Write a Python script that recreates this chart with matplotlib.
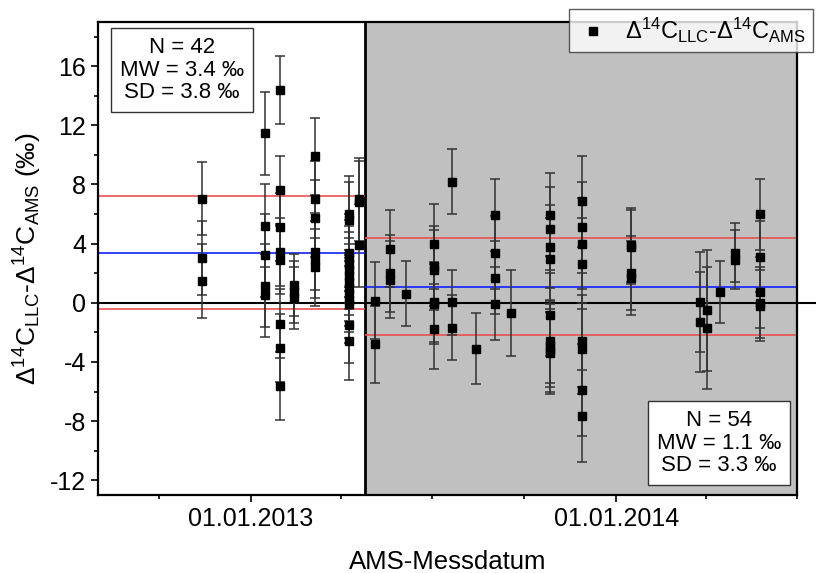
import numpy as np
import pandas as pd
import matplotlib
matplotlib.use("Agg")
import matplotlib.pyplot as plt
import matplotlib.dates as mdates
from matplotlib.lines import Line2D

plt.rcParams["font.family"] = ["Liberation Sans", "DejaVu Sans"]
plt.rcParams["mathtext.default"] = "regular"
plt.rcParams["axes.unicode_minus"] = False

# measurement dates (one per column of points) and the differences measured there
col_dates = ["2012-11-13", "2013-01-15", "2013-01-30", "2013-02-13", "2013-03-06",
             "2013-04-09", "2013-04-19",
             "2013-05-05", "2013-05-20", "2013-06-05", "2013-07-03", "2013-07-21",
             "2013-08-14", "2013-09-02", "2013-09-18", "2013-10-27", "2013-11-28",
             "2014-01-16", "2014-03-26", "2014-04-02", "2014-04-15", "2014-04-30",
             "2014-05-25"]
col_values = [
    [7.05, 3.05, 1.5],
    [11.45, 5.2, 3.2, 1.15, 0.5],
    [14.4, 7.6, 5.15, 3.45, 2.9, -1.4, -3.05, -5.6],
    [1.2, 0.75, 0.35],
    [9.9, 7.0, 5.7, 3.45, 2.9, 2.4],
    [6.0, 5.6, 3.4, 3.0, 2.6, 2.2, 1.8, 1.4, 1.0, 0.6, 0.2, -0.1, -1.5, -2.6],
    [7.0, 6.8, 3.9],
    [0.15, -2.8],
    [3.65, 2.0, 1.55],
    [0.6],
    [4.0, 2.5, 2.2, 0.07, -0.1, -1.8],
    [8.2, 0.05, -1.7],
    [-3.1],
    [5.95, 3.4, 1.7, -0.05],
    [-0.7],
    [5.95, 5.0, 3.8, 2.95, -0.8, -2.6, -2.9, -3.2, -3.4],
    [6.85, 5.1, 4.0, 2.65, -2.6, -3.1, -5.9, -7.65],
    [3.9, 3.8, 2.0, 1.7],
    [0.05, -1.3],
    [-0.5, -1.7],
    [0.75],
    [3.4, 2.9],
    [6.0, 3.1, 0.7, 0.0, -0.2],
]
col_errs = [2.5, 2.8, 2.3, 2.1, 2.6, 2.6, 2.8,
            2.6, 2.6, 2.2, 2.7, 2.2, 2.4, 2.45, 2.9, 2.8, 3.1,
            2.5, 3.4, 4.1, 2.1, 2.0, 2.4]

split_date = "2013-04-25"
stats_left = dict(n=42, mw=3.4, sd=3.8)
stats_right = dict(n=54, mw=1.1, sd=3.3)
x_range = ("2012-08-01", "2014-07-01")

dates, vals, errs = [], [], []
for d, vs, e in zip(col_dates, col_values, col_errs):
    for v in vs:
        dates.append(pd.Timestamp(d)); vals.append(v); errs.append(e)

x0, x1 = pd.Timestamp(x_range[0]), pd.Timestamp(x_range[1])
xs = pd.Timestamp(split_date)

fig = plt.figure(figsize=(8.16, 5.73), dpi=100)
ax = fig.add_axes([0.12, 0.136, 0.857, 0.826])

ax.axvspan(xs, x1, color="#c0c0c0", lw=0, zorder=0)
ax.axvline(xs, color="black", lw=2, zorder=1)

# mean (blue) and mean +/- SD (red) for both periods
for (a, b), s in [((x0, xs), stats_left), ((xs, x1), stats_right)]:
    ax.hlines(s["mw"], a, b, color="#1020ff", lw=1.2, zorder=2)
    ax.hlines([s["mw"] + s["sd"], s["mw"] - s["sd"]], a, b, color="#e85050", lw=1.2, zorder=2)
ax.plot([x0, x1 + pd.Timedelta(days=19)], [0, 0], color="black", lw=1.5, zorder=2, clip_on=False)

ax.errorbar(dates, vals, yerr=errs, fmt="s", color="black", ms=6, ecolor="#333333",
            elinewidth=1.1, capsize=3.5, capthick=1.1, zorder=3)

ax.set_xlim(x0, x1)
ax.set_ylim(-13, 19)
ax.set_yticks(np.arange(-12, 17, 4))
ax.set_yticks(np.arange(-12, 19, 2), minor=True)
ax.xaxis.set_major_locator(mdates.YearLocator())
ax.xaxis.set_minor_locator(mdates.MonthLocator(bymonth=[4, 7, 10]))
ax.xaxis.set_major_formatter(mdates.DateFormatter("%d.%m.%Y"))
ax.tick_params(which="major", length=5, width=1.2, labelsize=18, direction="out")
ax.tick_params(which="minor", length=3, width=1.2, direction="out")
for sp in ax.spines.values():
    sp.set_linewidth(1.6)

ax.set_xlabel("AMS-Messdatum", fontsize=18.5, labelpad=14)
ax.set_ylabel("Δ$^{14}$C$_{LLC}$-Δ$^{14}$C$_{AMS}$ (‰)", fontsize=19, labelpad=4)

box = dict(boxstyle="square,pad=0.4", fc="white", ec="#333333", lw=1)
for s, (bx, by) in [(stats_left, (0.12, 0.898)), (stats_right, (0.888, 0.11))]:
    ax.text(bx, by, f"N = {s['n']}\nMW = {s['mw']} ‰\nSD = {s['sd']} ‰",
            transform=ax.transAxes, ha="center", va="center", fontsize=16,
            multialignment="center", bbox=box, zorder=5, linespacing=1.1)

handle = Line2D([], [], ls="none", marker="s", color="black", ms=6)
leg = ax.legend([handle], ["Δ$^{14}$C$_{LLC}$-Δ$^{14}$C$_{AMS}$"],
                loc="upper right", bbox_to_anchor=(813 / 816, 1 - 9 / 573),
                bbox_transform=fig.transFigure, fontsize=17, frameon=True,
                fancybox=False, edgecolor="#333333", borderaxespad=0,
                handletextpad=0.6, borderpad=0.3, handlelength=1.5)
leg.get_frame().set_linewidth(1)

fig.savefig("out.png", dpi=100)
